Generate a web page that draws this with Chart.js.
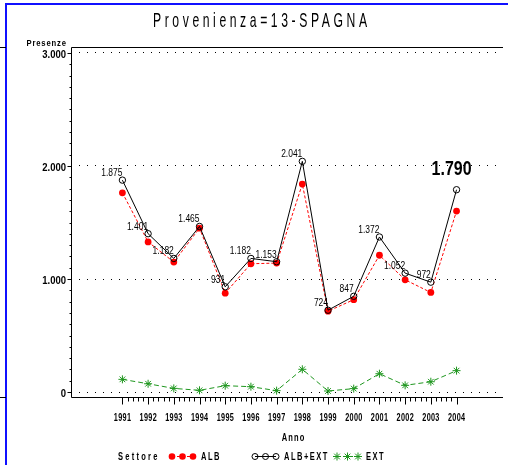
<!DOCTYPE html>
<html>
<head>
<meta charset="utf-8">
<script src="https://cdn.jsdelivr.net/npm/chart.js@4.4.0/dist/chart.umd.min.js"></script>
<style>
html, body { margin:0; padding:0; background:#fff; }
</style>
</head>
<body>
<canvas id="myChart" width="508" height="465"></canvas>
<script>
// dati (Provenienza = 13-SPAGNA)
const anni   = [1991, 1992, 1993, 1994, 1995, 1996, 1997, 1998, 1999, 2000, 2001, 2002, 2003, 2004];
const totale = [1875, 1401, 1182, 1465, 931, 1182, 1153, 2041, 724, 847, 1372, 1052, 972, 1790]; // ALB+EXT
const alb    = [1763, 1328, 1150, 1450, 875, 1135, 1141, 1840, 715, 817, 1210, 993, 881, 1601];
const ext    = [112, 73, 32, 15, 56, 47, 12, 201, 9, 30, 162, 59, 91, 189];
const tickY  = [0, 1000, 2000, 3000];

const FONT = "'Liberation Sans', Arial, sans-serif";

// 1875 -> "1.875"
function fmt(v){
	return String(v).replace(/\B(?=(\d{3})+$)/g, '.');
}

function punti(arr){
	return anni.map((a, i) => ({ x: a, y: arr[i] }));
}

// testo stretto: sx = compressione orizzontale, ls = spaziatura lettere
function testo(ctx, s, x, y, o){
	ctx.save();
	ctx.font = (o.bold ? 'bold ' : '') + o.size + 'px ' + FONT;
	ctx.letterSpacing = (o.ls || 0) + 'px';
	ctx.textAlign = 'left';
	ctx.textBaseline = 'alphabetic';
	const sx = o.sx || 1;
	const w = (ctx.measureText(s).width - (o.ls || 0)) * sx;
	let left = x;
	if (o.align == 'right') left = x - w;
	if (o.align == 'center') left = x - w/2;
	ctx.translate(left, y);
	ctx.scale(sx, 1);
	ctx.fillStyle = '#000';
	ctx.fillText(s, 0, 0);
	ctx.restore();
}

// simbolo legenda
function simbolo(ctx, tipo, x, y, col){
	ctx.save();
	ctx.strokeStyle = col; ctx.fillStyle = col; ctx.lineWidth = 1;
	ctx.beginPath();
	if (tipo == 'pieno'){
		ctx.arc(x, y, 3.3, 0, Math.PI*2); ctx.fill();
	} else if (tipo == 'vuoto'){
		ctx.arc(x, y, 3, 0, Math.PI*2); ctx.stroke();
	} else {
		const r = 4;
		for (let k = 0; k < 4; k++){
			const an = k*Math.PI/4;
			ctx.moveTo(x - r*Math.cos(an), y - r*Math.sin(an));
			ctx.lineTo(x + r*Math.cos(an), y + r*Math.sin(an));
		}
		ctx.stroke();
	}
	ctx.restore();
}

const decorazioni = {
	id: 'decorazioni',
	afterDatasetsDraw(chart){
		const ctx = chart.ctx, sx = chart.scales.x, sy = chart.scales.y;
		// etichette valori ALB+EXT
		totale.forEach((v, i) => {
			const px = sx.getPixelForValue(anni[i]), py = sy.getPixelForValue(v);
			if (i == totale.length - 1){
				testo(ctx, fmt(v), px + 15, py - 15, { size: 21, bold: true, sx: 0.76, align: 'right' });
			} else {
				testo(ctx, fmt(v), px, py - 4, { size: 11, sx: 0.77, align: 'right' });
			}
		});
	},
	afterDraw(chart){
		const ctx = chart.ctx, a = chart.chartArea, sx = chart.scales.x, sy = chart.scales.y;
		ctx.save();
		// cornice blu
		ctx.strokeStyle = '#1010ff'; ctx.lineWidth = 2;
		ctx.beginPath(); ctx.moveTo(6, 465); ctx.lineTo(6, 4); ctx.lineTo(508, 4); ctx.stroke();
		// trattini a sinistra
		ctx.strokeStyle = '#000'; ctx.lineWidth = 1;
		ctx.beginPath();
		ctx.moveTo(0, 47.5); ctx.lineTo(6, 47.5);
		ctx.moveTo(0, 397.5); ctx.lineTo(6, 397.5);
		ctx.stroke();
		// assi
		const L = Math.round(a.left) + 0.5, T = Math.round(a.top) + 0.5, B = Math.round(a.bottom) - 0.5;
		ctx.beginPath();
		ctx.moveTo(a.right, T); ctx.lineTo(L, T); ctx.lineTo(L, B); ctx.lineTo(a.right, B);
		ctx.stroke();
		// tacche asse x (4 minori tra gli anni)
		ctx.beginPath();
		const n = (anni[anni.length-1] - anni[0]) * 5;
		for (let i = 0; i <= n; i++){
			const px = Math.round(sx.getPixelForValue(anni[0] + i/5)) + 0.5;
			ctx.moveTo(px, B); ctx.lineTo(px, B + (i % 5 == 0 ? 7 : 4));
		}
		// tacche asse y ogni 100
		for (let v = 0; v <= 3000; v += 100){
			const py = Math.round(sy.getPixelForValue(v)) + 0.5;
			ctx.moveTo(L, py); ctx.lineTo(L - (v % 1000 == 0 ? 4 : 2), py);
		}
		ctx.stroke();
		ctx.restore();

		// etichette anni
		anni.forEach(v => {
			testo(ctx, String(v), sx.getPixelForValue(v), 421, { size: 11, bold: true, sx: 0.66, ls: 0.5, align: 'center' });
		});
		// etichette asse y
		tickY.forEach(v => {
			testo(ctx, fmt(v), 66, sy.getPixelForValue(v) + 5, { size: 10, bold: true, sx: 0.95, align: 'right' });
		});

		// titolo
		ctx.save();
		const titolo = 'Provenienza=13-SPAGNA';
		ctx.font = '21px ' + FONT;
		ctx.letterSpacing = '0px';
		const w0 = ctx.measureText(titolo).width;
		ctx.restore();
		const ts = 0.58;
		const tls = (214 / ts - w0) / (titolo.length - 1);
		testo(ctx, titolo, 153, 27, { size: 21, sx: ts, ls: tls });

		// titoli assi
		testo(ctx, 'Presenze', 66, 46, { size: 9, bold: true, sx: 0.85, ls: 1, align: 'right' });
		testo(ctx, 'Anno', 293, 441, { size: 10, bold: true, sx: 0.75, ls: 1.5, align: 'center' });

		// legenda
		testo(ctx, 'Settore', 118, 460, { size: 10, sx: 0.75, ls: 3, bold: true });
		const voci = [
			{ t: 'ALB',     tipo: 'pieno',  col: '#ff0000', dash: [3, 2], x: 172 },
			{ t: 'ALB+EXT', tipo: 'vuoto',  col: '#000000', dash: [],     x: 255 },
			{ t: 'EXT',     tipo: 'stella', col: '#1e961e', dash: [4, 2], x: 337 }
		];
		voci.forEach(o => {
			ctx.save();
			ctx.strokeStyle = o.col; ctx.lineWidth = 1; ctx.setLineDash(o.dash);
			ctx.beginPath(); ctx.moveTo(o.x, 456.5); ctx.lineTo(o.x + 21, 456.5); ctx.stroke();
			ctx.restore();
			for (let k = 0; k < 3; k++) simbolo(ctx, o.tipo, o.x + k*10.5, 456.5, o.col);
			testo(ctx, o.t, o.x + 29, 460, { size: 10, sx: 0.75, ls: 2, bold: true });
		});
	}
};

const ctx = document.getElementById('myChart');

new Chart(ctx, {
	type: 'line',
	data: {
		datasets: [
			{
				label: 'ALB+EXT',
				data: punti(totale),
				borderColor: '#000000',
				borderWidth: 1,
				pointStyle: 'circle',
				pointRadius: 3.2,
				pointBorderWidth: 1,
				pointBorderColor: '#000000',
				pointBackgroundColor: 'rgba(0,0,0,0)',
				order: 0
			},
			{
				label: 'ALB',
				data: punti(alb),
				borderColor: '#ff0000',
				borderWidth: 1,
				borderDash: [3, 2],
				pointStyle: 'circle',
				pointRadius: 3.4,
				pointBorderWidth: 0,
				pointBackgroundColor: '#ff0000',
				order: 1
			},
			{
				label: 'EXT',
				data: punti(ext),
				borderColor: '#1e961e',
				borderWidth: 1,
				borderDash: [5, 3],
				pointStyle: 'star',
				pointRadius: 4,
				pointBorderWidth: 1,
				pointBorderColor: '#1e961e',
				pointBackgroundColor: '#1e961e',
				order: 2
			}
		]
	},
	options: {
		responsive: false,
		animation: false,
		events: [],
		layout: { padding: { top: 47, left: 0, right: 0, bottom: 0 } },
		plugins: {
			legend: { display: false },
			tooltip: { enabled: false },
			title: { display: false }
		},
		scales: {
			x: {
				type: 'linear',
				min: 1989,
				max: 1989 + 437/26,
				afterBuildTicks: s => { s.ticks = anni.map(v => ({ value: v })); },
				afterFit: s => { s.height = 465 - 398; },
				grid: { display: false, drawTicks: false },
				border: { display: false },
				ticks: { display: false }
			},
			y: {
				min: -53,
				max: 3053,
				afterBuildTicks: s => { s.ticks = tickY.map(v => ({ value: v })); },
				afterFit: s => { s.width = 71; },
				grid: { color: '#000', lineWidth: 1, drawTicks: false },
				border: { display: false, dash: [1, 7] },
				ticks: { display: false }
			}
		}
	},
	plugins: [decorazioni]
});
</script>
</body>
</html>
